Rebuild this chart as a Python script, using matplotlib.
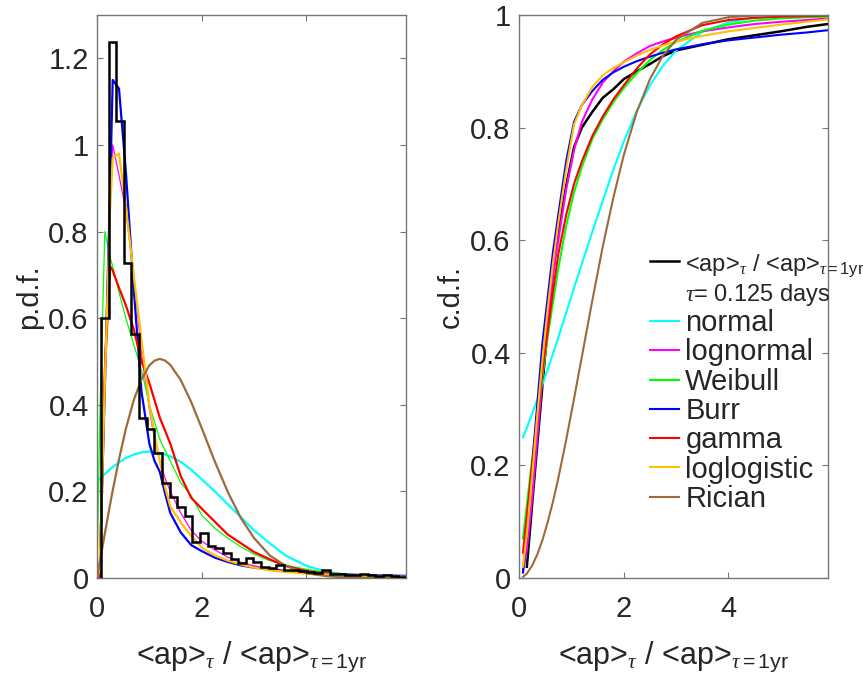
import numpy as np
import matplotlib
matplotlib.use("Agg")
import matplotlib.pyplot as plt
from matplotlib.lines import Line2D
from matplotlib.ticker import FuncFormatter

plt.rcParams['font.family'] = ['Liberation Sans', 'DejaVu Sans']
plt.rcParams['mathtext.fontset'] = 'custom'
plt.rcParams['mathtext.rm'] = 'Liberation Sans'
plt.rcParams['mathtext.it'] = 'Liberation Serif:italic'
plt.rcParams['mathtext.bf'] = 'Liberation Sans:bold'
plt.rcParams['mathtext.sf'] = 'Liberation Sans'

# histogram of <ap>_tau / <ap>_1yr (40 bins between min and max)
hist_min = 0.076
hist_max = 5.9
hist_heights = [0.60, 1.238, 1.056, 0.727, 0.5625, 0.370, 0.343, 0.289, 0.220, 0.188,
                0.165, 0.142, 0.084, 0.103, 0.075, 0.070, 0.058, 0.045, 0.034, 0.046,
                0.038, 0.026, 0.022, 0.030, 0.019, 0.018, 0.016, 0.014, 0.012, 0.018,
                0.009, 0.009, 0.008, 0.007, 0.009, 0.006, 0.005, 0.008, 0.004, 0.003]

# fitted p.d.f.s
x_pdf = [0, 0.05, 0.15, 0.25, 0.3, 0.42, 0.55, 0.7, 0.85, 1.0, 1.1, 1.2, 1.3, 1.4, 1.6,
         1.8, 2.0, 2.25, 2.5, 2.75, 3.0, 3.3, 3.6, 4.0, 4.4, 4.8, 5.3, 5.9]
pdf_normal = [0.223, 0.229, 0.240, 0.251, 0.256, 0.267, 0.277, 0.285, 0.290, 0.292, 0.291,
              0.289, 0.285, 0.281, 0.268, 0.250, 0.228, 0.200, 0.170, 0.140, 0.110, 0.080,
              0.052, 0.028, 0.014, 0.007, 0.002, 0.0005]
pdf_lognormal = [0, 0.0, 0.50, 0.87, 1.0, 0.93, 0.85, 0.70, 0.52, 0.39, 0.32, 0.27, 0.23,
                 0.20, 0.15, 0.11, 0.085, 0.065, 0.048, 0.036, 0.028, 0.022, 0.017, 0.012,
                 0.009, 0.006, 0.004, 0.003]
pdf_weibull = [0, 0.35, 0.80, 0.74, 0.72, 0.66, 0.60, 0.54, 0.48, 0.40, 0.36, 0.32, 0.295,
               0.27, 0.22, 0.19, 0.145, 0.115, 0.092, 0.072, 0.055, 0.040, 0.030, 0.020,
               0.013, 0.009, 0.006, 0.004]
pdf_burr = [0, 0.0, 0.44, 0.90, 1.15, 1.13, 0.94, 0.67, 0.43, 0.31, 0.27, 0.245, 0.195,
            0.15, 0.105, 0.076, 0.062, 0.047, 0.037, 0.029, 0.024, 0.019, 0.016, 0.012,
            0.010, 0.008, 0.006, 0.005]
pdf_gamma = [0, 0.0, 0.48, 0.72, 0.71, 0.67, 0.63, 0.575, 0.50, 0.45, 0.41, 0.37, 0.34,
             0.31, 0.235, 0.185, 0.16, 0.13, 0.10, 0.08, 0.06, 0.043, 0.028, 0.016, 0.010,
             0.006, 0.003, 0.002]
pdf_loglogistic = [0, 0.02, 0.45, 0.85, 0.97, 0.98, 0.86, 0.70, 0.55, 0.40, 0.33, 0.27,
                   0.21, 0.165, 0.128, 0.097, 0.07, 0.052, 0.040, 0.031, 0.024, 0.018,
                   0.014, 0.010, 0.008, 0.006, 0.004, 0.003]
pdf_rician = [0, 0.035, 0.103, 0.170, 0.202, 0.274, 0.344, 0.410, 0.459, 0.491, 0.502,
              0.506, 0.502, 0.492, 0.457, 0.406, 0.346, 0.269, 0.198, 0.138, 0.092, 0.052,
              0.028, 0.011, 0.004, 0.001, 0.0, 0.0]

# empirical and fitted c.d.f.s
x_cdf = [0.076, 0.15, 0.25, 0.35, 0.45, 0.55, 0.65, 0.75, 0.9, 1.05, 1.2, 1.4, 1.6, 1.8,
         2.0, 2.25, 2.5, 2.75, 3.0, 3.5, 4.0, 4.5, 5.0, 5.5, 5.9]
cdf_data = [np.nan, 0.02, 0.13, 0.238, 0.345, 0.45, 0.544, 0.617, 0.696, 0.765, 0.80,
            0.828, 0.853, 0.868, 0.886, 0.90, 0.913, 0.927, 0.937, 0.947, 0.957, 0.964,
            0.971, 0.979, 0.984]
cdf_normal = [0.250, 0.267, 0.292, 0.317, 0.344, 0.371, 0.399, 0.427, 0.471, 0.515, 0.558,
              0.615, 0.670, 0.725, 0.775, 0.83, 0.875, 0.91, 0.937, 0.97, 0.987, 0.995,
              0.998, 0.9995, 0.9998]
cdf_lognormal = [0.01, 0.05, 0.14, 0.25, 0.36, 0.46, 0.54, 0.60, 0.69, 0.76, 0.81, 0.85,
                 0.88, 0.90, 0.917, 0.932, 0.945, 0.953, 0.96, 0.971, 0.978, 0.984, 0.988,
                 0.991, 0.994]
cdf_weibull = [0.07, 0.13, 0.21, 0.29, 0.36, 0.43, 0.49, 0.55, 0.625, 0.685, 0.73, 0.78,
               0.815, 0.845, 0.87, 0.897, 0.92, 0.938, 0.952, 0.972, 0.983, 0.99, 0.994,
               0.996, 0.997]
cdf_burr = [0.01, 0.09, 0.20, 0.31, 0.42, 0.50, 0.58, 0.645, 0.74, 0.81, 0.84, 0.865,
            0.885, 0.898, 0.908, 0.918, 0.926, 0.933, 0.939, 0.948, 0.955, 0.96, 0.965,
            0.969, 0.973]
cdf_gamma = [0.045, 0.11, 0.2, 0.285, 0.37, 0.44, 0.51, 0.575, 0.645, 0.70, 0.74, 0.785,
             0.82, 0.85, 0.875, 0.905, 0.93, 0.948, 0.962, 0.982, 0.991, 0.995, 0.997,
             0.998, 0.999]
cdf_loglogistic = [0.02, 0.08, 0.18, 0.29, 0.39, 0.48, 0.56, 0.63, 0.725, 0.805, 0.84,
                   0.872, 0.893, 0.906, 0.916, 0.928, 0.938, 0.946, 0.953, 0.963, 0.971,
                   0.977, 0.983, 0.988, 0.992]
cdf_rician = [0.002, 0.008, 0.022, 0.042, 0.068, 0.100, 0.136, 0.177, 0.245, 0.318, 0.393,
              0.493, 0.589, 0.675, 0.751, 0.828, 0.886, 0.928, 0.956, 0.986, 0.996, 0.999,
              1.0, 1.0, 1.0]

fit_names = ['normal', 'lognormal', 'Weibull', 'Burr', 'gamma', 'loglogistic', 'Rician']
fit_colors = ['#00FFFF', '#FF00FF', '#00FF00', '#0000FF', '#FF0000', '#FFC000', '#9B6B3C']
pdf_fits = [pdf_normal, pdf_lognormal, pdf_weibull, pdf_burr, pdf_gamma, pdf_loglogistic, pdf_rician]
cdf_fits = [cdf_normal, cdf_lognormal, cdf_weibull, cdf_burr, cdf_gamma, cdf_loglogistic, cdf_rician]
pdf_widths = [1.6, 0.9, 0.9, 1.6, 1.6, 1.6, 1.6]

xlab = r'<ap>$_{\tau}$ / <ap>$_{\tau\mathrm{=1yr}}$'
text_col = '#262626'
spine_col = '#777777'
fs = 21


def style_axes(ax, ymax, yticks):
    ax.set_xlim(0, hist_max)
    ax.set_ylim(0, ymax)
    ax.set_xticks([0, 2, 4])
    ax.set_yticks(yticks)
    ax.yaxis.set_major_formatter(FuncFormatter(lambda v, p: '%g' % round(v, 2)))
    ax.tick_params(direction='in', length=4, width=0.8, color=spine_col,
                   labelsize=fs, labelcolor=text_col, top=True, right=True)
    ax.tick_params(axis='x', pad=12)
    ax.tick_params(axis='y', pad=6)
    for s in ax.spines.values():
        s.set_color(spine_col)
        s.set_linewidth(1.0)
    ax.set_xlabel(xlab, fontsize=22, color=text_col, labelpad=12)


fig = plt.figure(figsize=(8.63, 6.82), dpi=100)
ax1 = fig.add_axes([0.1124, 0.1525, 0.358, 0.8255])
ax2 = fig.add_axes([0.6014, 0.1525, 0.358, 0.8255])

# left: p.d.f.
for ys, c, w in zip(pdf_fits, fit_colors, pdf_widths):
    ax1.plot(x_pdf, ys, color=c, lw=w)
edges = np.linspace(hist_min, hist_max, len(hist_heights) + 1)
ax1.stairs(hist_heights, edges, color='k', lw=1.8, baseline=0, zorder=5)
style_axes(ax1, 1.3, [0, 0.2, 0.4, 0.6, 0.8, 1.0, 1.2])
ax1.set_ylabel('p.d.f.', fontsize=fs, color=text_col, labelpad=4)

# right: c.d.f.
ax2.plot(x_cdf, cdf_data, color='k', lw=1.8)
for ys, c in zip(cdf_fits, fit_colors):
    ax2.plot(x_cdf, ys, color=c, lw=1.5)
style_axes(ax2, 1.0, [0, 0.2, 0.4, 0.6, 0.8, 1.0])
ax2.set_ylabel('c.d.f.', fontsize=fs, color=text_col, labelpad=4)

handles = [Line2D([], [], color='k', lw=1.8), Line2D([], [], color='none')]
handles += [Line2D([], [], color=c, lw=1.5) for c in fit_colors]
labels = [xlab, r'$\tau$= 0.125 days'] + fit_names
leg = ax2.legend(handles, labels, loc='upper left', bbox_to_anchor=(0.425, 0.582),
                 frameon=False, fontsize=fs, handlelength=1.0, handletextpad=0.2,
                 labelspacing=0.045, borderpad=0, borderaxespad=0)
for t in leg.get_texts():
    t.set_color(text_col)
for t in leg.get_texts()[:2]:
    t.set_fontsize(17)

fig.savefig('out.png', dpi=100)
